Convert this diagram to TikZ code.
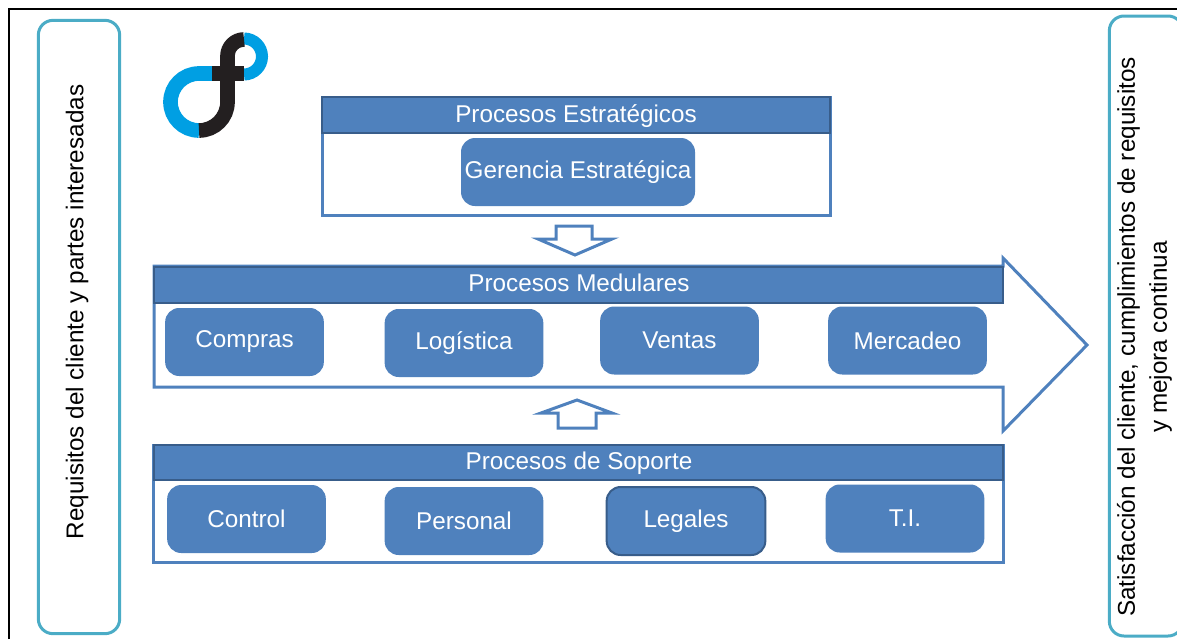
\documentclass[tikz,border=0pt]{standalone}
\usepackage{fontspec}
\setmainfont{Liberation Sans}
\definecolor{procblue}{HTML}{4F81BD}
\definecolor{procdark}{HTML}{385D8A}
\definecolor{sideteal}{HTML}{4BACC6}
\definecolor{logoblue}{HTML}{009FE3}
\definecolor{logoblack}{HTML}{231F20}
\tikzset{
	procbox/.style={draw=procblue, line width=2.25pt, fill=white, inner sep=0pt},
	headbar/.style={draw=procdark, line width=1.5pt, fill=procblue, inner sep=0pt},
	headtext/.style={text=white, font=\fontsize{18.2}{20}\selectfont, inner sep=0pt},
	task/.style={fill=procblue, rounded corners=10.5pt, text=white, font=\fontsize{18.2}{20}\selectfont, inner sep=0pt, minimum width=119pt, minimum height=51pt},
	sidebox/.style={draw=sideteal, line width=2.25pt, rounded corners=11pt, fill=white, inner sep=0pt},
	sidetext/.style={rotate=90, align=center, text=black, font=\fontsize{18.2}{24}\selectfont},
	blockarrow/.style={draw=procblue, line width=2.25pt, fill=white, line join=miter},
	logoring/.style={line width=11pt}
}
\begin{document}
\begin{tikzpicture}[x=0.75pt, y=-0.75pt]
	\useasboundingbox (0,0) rectangle (1177,639);
	% frame
	\coordinate (framebl) at (9,639);
	\coordinate (frametl) at (9,9);
	\coordinate (frametr) at (1177,9);
	\draw[black, line width=2pt] (framebl) -- (frametl) -- (frametr);

	% side boxes
	\node[sidebox, minimum width=61pt, minimum height=460pt] (inputbox) at (79,327) {};
	\node[sidetext] (inputtext) at (77,312) {Requisitos del cliente y partes interesadas};
	\node[sidebox, minimum width=55pt, minimum height=465pt] (outputbox) at (1146,326) {};
	\node[sidetext] (outputtext) at (1144.5,337) {Satisfacción del cliente, cumplimientos de requisitos\\y mejora continua};

	% logo
	\draw[line width=9pt, logoblue] (244,38.5) arc[start angle=-90, end angle=90, radius=18];
	\draw[logoring, logoblue] (212,73.5) -- (199,73.5) arc[start angle=-90, end angle=-270, radius=28.5];
	\draw[logoring, logoblack] (244,39.5) arc[start angle=-90, end angle=-180, radius=16.5] -- (227.5,102) arc[start angle=0, end angle=90, radius=28.5];
	\draw[logoring, logoblack] (212,73.5) -- (244,73.5);

	% estrategicos
	\node[procbox, minimum width=381pt, minimum height=88.5pt] (stratbox) at (576,156) {};
	\node[headbar, minimum width=381pt, minimum height=27pt] (stratbar) at (576,115) {};
	\node[headtext] (strattext) at (576,116) {Procesos Estratégicos};
	\node[task, minimum width=175.5pt] (gerencia) at (578,172) {Gerencia Estratégica};

	\draw[blockarrow] (556,226) -- (592,226) -- (592,239) -- (612,239) -- (575,255) -- (538,239) -- (556,239) -- cycle;

	% medulares
	\draw[blockarrow] (154,266) -- (1003,266) -- (1003,258) -- (1087,345) -- (1003,431) -- (1003,387) -- (154,387) -- cycle;
	\node[headbar, minimum width=636.75pt, minimum height=27pt] (medbar) at (578.5,284.5) {};
	\node[headtext] (medtext) at (579,283) {Procesos Medulares};
	\node[task] (compras) at (244.5,342) {Compras};
	\node[task] (logistica) at (464,343) {Logística};
	\node[task] (ventas) at (679.5,340.5) {Ventas};
	\node[task] (mercadeo) at (907.5,340.5) {Mercadeo};

	\draw[blockarrow] (558,428) -- (596,428) -- (596,413) -- (612,413) -- (577,400) -- (541,413) -- (558,413) -- cycle;

	% soporte
	\node[procbox, minimum width=637pt, minimum height=88pt] (supbox) at (578.5,504) {};
	\node[headbar, minimum width=636.75pt, minimum height=26pt] (supbar) at (578.5,462.5) {};
	\node[headtext] (suptext) at (579,463.5) {Procesos de Soporte};
	\node[task] (control) at (246.5,519) {Control};
	\node[task] (personal) at (464,521) {Personal};
	\node[task, draw=procdark, line width=1.5pt] (legales) at (686,521) {Legales};
	\node[task] (ti) at (905,518.5) {T.I.};
\end{tikzpicture}
\end{document}
